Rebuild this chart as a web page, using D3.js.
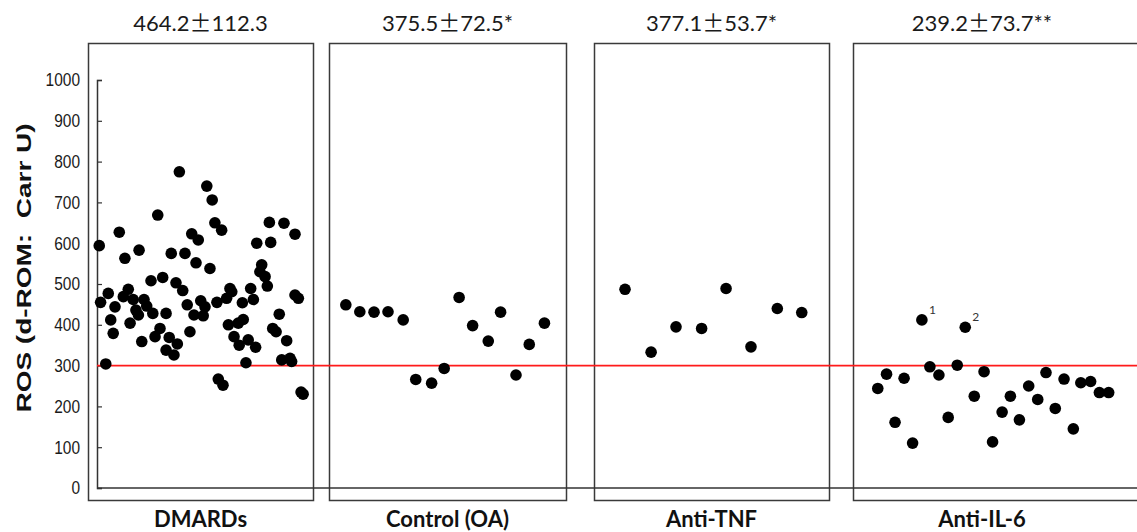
<!DOCTYPE html>
<html>

<head>
    <title>ROS by treatment group</title>
    <script src="https://d3js.org/d3.v7.min.js"></script>
    <style>
        body {
            margin: 0;
            padding: 0;
            background: #fff;
            overflow: hidden;
        }
        .pm {
            font-family: "Noto Sans CJK JP", sans-serif;
            font-feature-settings: "fwid" 1;
        }
    </style>
</head>

<body>
    <script>
        // group names, header stats, and points as [position in panel (0-100), ROS value]
        var groups = ["DMARDs", "Control (OA)", "Anti-TNF", "Anti-IL-6"];
        var headers = [["464.2", "112.3"], ["375.5", "72.5*"], ["377.1", "53.7*"], ["239.2", "73.7**"]];
        var yTicks = [0, 100, 200, 300, 400, 500, 600, 700, 800, 900, 1000];
        var cutoff = 300;

        var dmards = [
            [5.0, 594], [5.6, 455], [9.0, 477], [7.9, 304], [10.1, 412], [11.2, 379], [12.0, 444], [13.9, 627],
            [16.4, 563], [15.7, 469], [17.9, 487], [18.7, 404], [20.1, 462], [22.7, 583], [21.3, 436], [22.4, 424],
            [23.9, 359], [24.9, 462], [26.1, 446], [28.0, 508], [28.8, 428], [29.8, 371], [31.0, 669], [32.0, 391],
            [33.2, 516], [34.7, 428], [34.7, 338], [36.1, 369], [38.2, 326], [39.7, 353], [37.0, 575], [39.1, 503],
            [40.6, 775], [42.1, 484], [43.1, 575], [44.1, 449], [45.3, 383], [46.1, 623], [47.1, 424], [48.0, 552],
            [49.0, 608], [50.1, 459], [51.2, 422], [52.0, 444], [52.8, 740], [54.2, 538], [55.2, 706], [56.4, 650],
            [57.3, 455], [59.4, 632], [61.6, 465], [63.1, 489], [63.9, 481], [57.9, 267], [60.0, 252], [62.4, 400],
            [64.9, 371], [67.2, 350], [66.8, 404], [68.6, 454], [69.0, 413], [70.2, 307], [71.2, 363], [72.3, 489],
            [73.5, 462], [74.5, 345], [75.0, 600], [77.2, 547], [76.4, 530], [78.7, 518], [79.7, 495], [80.6, 651],
            [81.2, 602], [82.1, 391], [83.6, 383], [85.0, 426], [86.1, 314], [87.1, 649], [88.3, 361], [89.8, 318],
            [90.5, 310], [92.0, 622], [92.0, 473], [93.5, 465], [94.7, 235], [95.6, 230]
        ];
        var controlOA = [
            [7.1, 449], [13.0, 432], [19.0, 431], [24.9, 432], [31.3, 412], [36.6, 266], [43.3, 257], [48.6, 293],
            [54.9, 467], [60.6, 398], [67.2, 360], [72.4, 431], [78.9, 277], [84.5, 352], [90.9, 404]
        ];
        var antiTNF = [
            [13.2, 487], [24.3, 333], [34.9, 395], [45.8, 391], [56.2, 489], [66.8, 346], [78.0, 440], [88.4, 430]
        ];
        var antiIL6 = [
            [9.6, 244], [13.0, 279], [16.3, 161], [19.8, 269], [23.1, 110], [26.7, 412], [29.8, 297], [33.3, 277],
            [36.9, 173], [40.4, 301], [43.5, 394], [47.0, 225], [50.8, 285], [54.1, 113], [57.8, 186], [61.0, 225],
            [64.5, 167], [68.1, 250], [71.6, 217], [74.8, 283], [78.4, 195], [81.8, 267], [85.4, 145], [88.3, 258],
            [92.1, 261], [95.5, 234], [99.1, 234]
        ];
        var series = [dmards, controlOA, antiTNF, antiIL6];
        // numbered outliers in Anti-IL-6: [point index, label]
        var il6Notes = [[5, "1"], [10, "2"]];

        var width = 1137,
            height = 532;

        // panel boxes (left, right) in page pixels
        var panels = [[88, 313], [329, 566], [594, 829], [853, 1111]];
        var boxTop = 43,
            boxBottom = 500;

        var svg = d3.select("body").append("svg")
            .attr("width", width)
            .attr("height", height);

        var y = d3.scaleLinear().domain([0, 1000]).range([488, 80]);
        var axisX = 97;

        // boxes
        panels.forEach(function (p, i) {
            var right = i == 3 ? width + 10 : p[1];
            svg.append("rect")
                .attr("x", p[0] + 0.5)
                .attr("y", boxTop + 0.5)
                .attr("width", right - p[0])
                .attr("height", boxBottom - boxTop)
                .attr("fill", "none")
                .attr("stroke", "#3a3a3a")
                .attr("stroke-width", 1.5);
        });

        // y axis with ticks pointing inward
        var yAxis = d3.axisRight(y).tickValues(yTicks).tickSize(5).tickFormat("");
        var gy = svg.append("g").attr("transform", "translate(" + axisX + ",0)").call(yAxis);
        gy.select(".domain").attr("stroke", "#333").attr("stroke-width", 1.5);
        gy.selectAll(".tick line").attr("stroke", "#333").attr("stroke-width", 1.2);

        svg.append("g").selectAll("text")
            .data(yTicks)
            .join("text")
            .attr("transform", (d) => "translate(80," + y(d) + ") scale(0.86,1)")
            .attr("dy", "0.36em")
            .attr("text-anchor", "end")
            .style("font-family", "'Liberation Sans', Arial, sans-serif")
            .style("font-size", "18px")
            .attr("fill", "#1a1a1a")
            .text((d) => d);

        // baseline at 0 across all panels
        svg.append("line")
            .attr("x1", axisX).attr("x2", width)
            .attr("y1", y(0)).attr("y2", y(0))
            .attr("stroke", "#333").attr("stroke-width", 1.5);

        // reference line
        svg.append("line")
            .attr("x1", axisX).attr("x2", width)
            .attr("y1", y(cutoff)).attr("y2", y(cutoff))
            .attr("stroke", "#ff1a1a").attr("stroke-width", 1.6);

        // points
        series.forEach(function (pts, i) {
            var p = panels[i];
            var x = d3.scaleLinear().domain([0, 100]).range([p[0], p[1]]);
            svg.append("g").selectAll("circle")
                .data(pts)
                .join("circle")
                .attr("cx", (d) => x(d[0]))
                .attr("cy", (d) => y(d[1]))
                .attr("r", 5.8)
                .attr("fill", "#000");

            if (i == 3) {
                svg.append("g").selectAll("text")
                    .data(il6Notes)
                    .join("text")
                    .attr("x", (d) => x(pts[d[0]][0]) + 7)
                    .attr("y", (d) => y(pts[d[0]][1]) - 6)
                    .style("font-family", "Lato, sans-serif")
                    .style("font-size", "12px")
                    .attr("fill", "#333")
                    .text((d) => d[1]);
            }
        });

        // header stats (mean ± sd) and group names
        var hdr = svg.append("g").selectAll("text")
            .data(headers)
            .join("text")
            .attr("x", (d, i) => (panels[i][0] + panels[i][1]) / 2)
            .attr("y", 31)
            .attr("text-anchor", "middle")
            .style("font-family", "Lato, sans-serif")
            .style("font-size", "22px")
            .attr("fill", "#1a1a1a");
        hdr.append("tspan").text((d) => d[0]);
        hdr.append("tspan").attr("class", "pm").text("\u00b1");
        hdr.append("tspan").text((d) => d[1]);

        svg.append("g").selectAll("text")
            .data(groups)
            .join("text")
            .attr("x", (d, i) => (panels[i][0] + panels[i][1]) / 2)
            .attr("y", 527)
            .attr("text-anchor", "middle")
            .style("font-family", "Lato, sans-serif")
            .style("font-weight", "bold")
            .style("font-size", "22px")
            .attr("fill", "#111")
            .text((d) => d);

        svg.append("text")
            .attr("transform", "translate(31,268) rotate(-90) scale(1,0.7)")
            .attr("text-anchor", "middle")
            .style("font-family", "'Liberation Sans', Arial, sans-serif")
            .style("font-weight", "bold")
            .style("font-size", "28px")
            .style("white-space", "pre")
            .attr("fill", "#111")
            .text("ROS (d-ROM:  Carr U)");
    </script>
</body>

</html>
